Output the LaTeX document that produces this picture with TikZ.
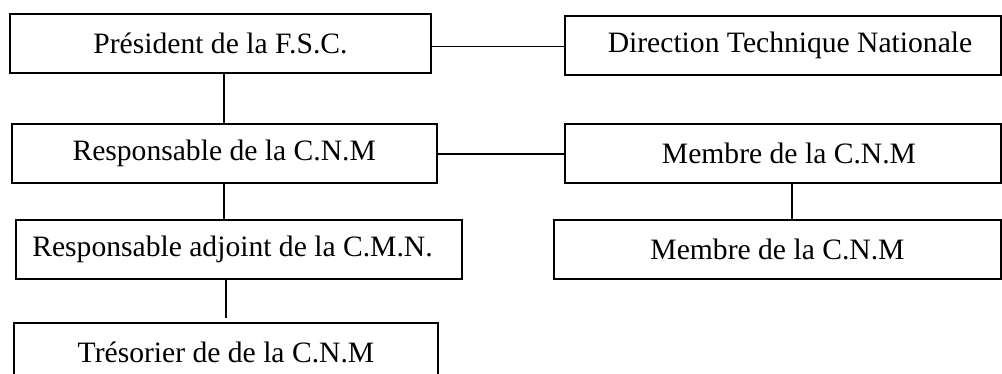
\documentclass[tikz,border=0pt]{standalone}
\usepackage{fontspec}
\setmainfont{Liberation Serif}
\begin{document}
\begin{tikzpicture}[x=1pt,y=-1pt,
  box/.style={draw, line width=1.6pt, inner sep=0pt, minimum height=59pt, anchor=center},
  txt/.style={inner sep=0pt, font=\fontsize{29.6}{32}\selectfont, anchor=center},
  link/.style={line width=1.6pt}]
\path[use as bounding box, clip] (0,0) rectangle (1002,374);
\node[box, minimum width=421pt] (pres) at (220.5,43.5) {};
\node[txt] (presT) at (pres.center) {Président de la F.S.C.};
\node[box, minimum width=436pt] (dtn) at (783,45.5) {};
\node[txt] (dtnT) at ([xshift=7pt]dtn.center) {Direction Technique Nationale};
\node[box, minimum width=425pt] (resp) at (224.2,153.8) {};
\node[txt] (respT) at (resp.center) {Responsable de la C.N.M};
\node[box, minimum width=436pt] (memb1) at (783,153.8) {};
\node[txt] (memb1T) at ([xshift=6pt]memb1.center) {Membre de la C.N.M};
\node[box, minimum width=446pt] (adj) at (239,249.5) {};
\node[txt] (adjT) at ([xshift=-6.5pt]adj.center) {Responsable adjoint de la C.M.N.};
\node[box, minimum width=447pt] (memb2) at (777.5,249.7) {};
\node[txt] (memb2T) at (memb2.center) {Membre de la C.N.M};
\node[box, minimum width=424pt] (tres) at (226,352.5) {};
\node[txt] (tresT) at (tres.center) {Trésorier de de la C.N.M};
\draw[link] ([yshift=-3pt]pres.east) -- ([yshift=-3pt]pres.east -| dtn.west);
\draw[link] (resp.north) -- (resp.north |- pres.south);
\draw[link] (resp.east) -- (memb1.west);
\draw[link] (resp.south) -- (resp.south |- adj.north);
\draw[link] (adj.south -| tres.north) -- ([yshift=4pt]tres.north);
\draw[link] ([xshift=9pt]memb1.south) -- ([xshift=9pt]memb1.south |- memb2.north);
\end{tikzpicture}
\end{document}
